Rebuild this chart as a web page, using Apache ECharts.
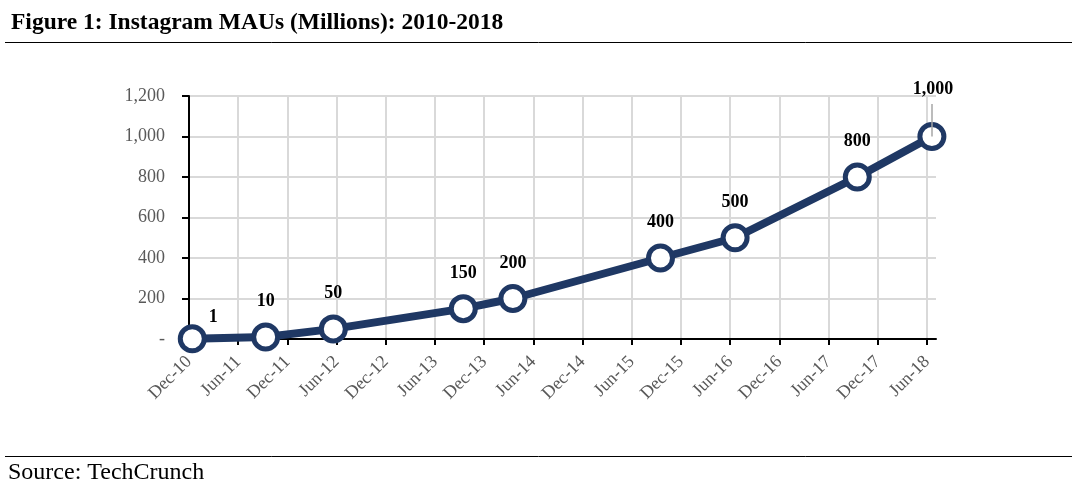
<!DOCTYPE html>
<html>
<head>
<meta charset="utf-8">
<script src="https://cdn.jsdelivr.net/npm/echarts@6/dist/echarts.min.js"></script>
<style>
html,body{margin:0;padding:0;background:#fff;}
#chart{width:1084px;height:496px;}
</style>
</head>
<body>
<div id="chart"></div>
<script>
// Tick labels along the x axis (every 6 months from Dec-10)
var xTickLabels = ['Dec-10','Jun-11','Dec-11','Jun-12','Dec-12','Jun-13','Dec-13','Jun-14','Dec-14','Jun-15','Dec-15','Jun-16','Dec-16','Jun-17','Dec-17','Jun-18'];
var yTickLabels = ['-','200','400','600','800','1,000','1,200'];
// Months since Dec-2010 for each observation
var monthsSinceDec10 = [0.4, 9.35, 17.6, 33.45, 39.5, 57.5, 66.6, 81.5, 90.6];
// Instagram MAUs (millions)
var maus = [1, 10, 50, 150, 200, 400, 500, 800, 1000];

var FONT = '"Liberation Serif", "DejaVu Serif", serif';
var NAVY = '#1F3864';

var xTickValues = xTickLabels.map(function(_, i){ return i * 6; });
var seriesData = maus.map(function(v, i){
  var item = { value: [monthsSinceDec10[i], v] };
  if (i === 0) item.label = { offset: [21, 14] };
  if (i === maus.length - 1) item.label = { offset: [1, -12] };
  return item;
});

var chart = echarts.init(document.getElementById('chart'), null, {renderer: 'canvas'});
chart.setOption({
  animation: false,
  backgroundColor: '#ffffff',
  title: {
    text: 'Figure 1: Instagram MAUs (Millions): 2010-2018',
    left: 6, top: 6,
    textStyle: { fontFamily: FONT, fontWeight: 'bold', fontSize: 23.5, color: '#000' }
  },
  graphic: [
    { type: 'line', shape: { x1: 5, y1: 42.5, x2: 1072, y2: 42.5 }, style: { stroke: '#000', lineWidth: 1 } },
    { type: 'line', shape: { x1: 5, y1: 456.5, x2: 1072, y2: 456.5 }, style: { stroke: '#000', lineWidth: 1 } },
    { type: 'text', left: 8, top: 461, style: { text: 'Source: TechCrunch', font: '24px ' + FONT, fill: '#000' } }
  ],
  grid: { left: 189, right: 148, top: 96, bottom: 157, containLabel: false },
  xAxis: {
    type: 'value', min: 0, max: 91.1,
    axisLine: { show: true, lineStyle: { color: '#000', width: 2 } },
    axisTick: { show: true, customValues: xTickValues, length: 6, lineStyle: { color: '#000', width: 2 } },
    axisLabel: {
      customValues: xTickValues,
      rotate: 45, margin: 20,
      fontFamily: FONT, fontSize: 18, color: '#595959',
      formatter: function(v){ return xTickLabels[Math.round(v / 6)] || ''; }
    },
    splitLine: { show: true, lineStyle: { color: '#d9d9d9', width: 2 } }
  },
  yAxis: {
    type: 'value', min: 0, max: 1200, interval: 200,
    axisLine: { show: true, lineStyle: { color: '#000', width: 2 } },
    axisTick: { show: true, length: 7, lineStyle: { color: '#000', width: 2 } },
    axisLabel: {
      margin: 24, fontFamily: FONT, fontSize: 18, color: '#595959',
      formatter: function(v){ return yTickLabels[Math.round(v / 200)]; }
    },
    splitLine: { show: true, lineStyle: { color: '#d9d9d9', width: 2 } }
  },
  series: [{
    type: 'line',
    data: seriesData,
    clip: false,
    symbol: 'circle',
    symbolSize: 24,
    lineStyle: { color: NAVY, width: 8 },
    itemStyle: { color: '#ffffff', borderColor: NAVY, borderWidth: 5 },
    label: {
      show: true, position: 'top', distance: 12,
      fontFamily: FONT, fontWeight: 'bold', fontSize: 18, color: '#000',
      formatter: function(p){ return p.value[1].toLocaleString('en-US'); }
    },
    markLine: {
      silent: true, symbol: 'none', label: { show: false },
      lineStyle: { color: '#a6a6a6', width: 1.5, type: 'solid' },
      data: [[ { coord: [monthsSinceDec10[8], maus[8]] }, { coord: [monthsSinceDec10[8], 1160] } ]]
    },
    z: 3
  }]
});
</script>
</body>
</html>
